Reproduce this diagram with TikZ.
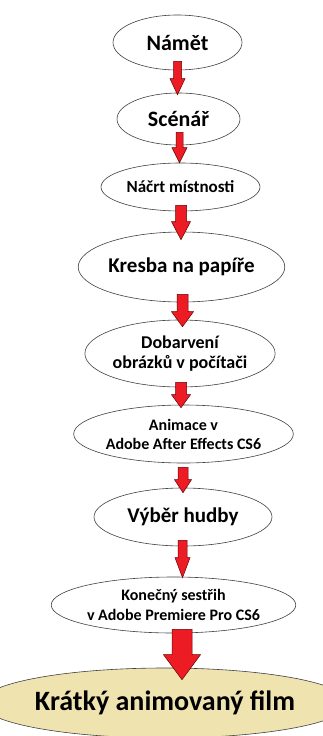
\documentclass[tikz,border=0pt]{standalone}
\usepackage{fontspec}
\setmainfont{Carlito}
\usetikzlibrary{shapes.geometric,calc}
\definecolor{arrowred}{RGB}{237,28,36}
\definecolor{filmtan}{RGB}{239,228,176}

\newcommand{\sz}[2]{\fontsize{#1}{#2}\selectfont}
% block arrow: from, to, shaft width, head width, head length
\newcommand{\flowarrow}[5]{%
  \filldraw[flow] let \p1=(#1), \p2=(#2) in
    (\x1-#3/2,\y1) -- (\x1-#3/2,\y2+#5) -- (\x1-#4/2,\y2+#5) -- (\x1,\y2)
    -- (\x1+#4/2,\y2+#5) -- (\x1+#3/2,\y2+#5) -- (\x1+#3/2,\y1) -- cycle;}

\tikzset{
  stage/.style={ellipse, draw=black!75, line width=0.6pt, fill=white,
    inner sep=0pt, align=center},
  flow/.style={fill=arrowred, draw=black!60!red, line width=0.5pt, line join=miter}
}

\begin{document}
\begin{tikzpicture}[x=1pt,y=-1pt]
        \useasboundingbox (0,0) rectangle (323,736);
        % Stages
        \node[stage, minimum width=129pt, minimum height=55pt, font=\bfseries\sz{22}{24}] (namet) at (177.5,42.5) {Námět};
        \node[stage, minimum width=123pt, minimum height=52pt, font=\bfseries\sz{22}{24}] (scenar) at (178.5,119) {Scénář};
        \node[stage, minimum width=159pt, minimum height=48pt, font=\bfseries\sz{17}{19}] (nacrt) at (180.5,187) {Náčrt místnosti};
        \node[stage, minimum width=193pt, minimum height=70pt, font=\bfseries\sz{21}{23}] (kresba) at (181.5,267) {Kresba na papíře};
        \node[stage, minimum width=166pt, minimum height=67pt, font=\bfseries\sz{18}{19.5}] (dobarveni) at (180,353.5) {Dobarvení\\obrázků v počítači};
        \node[stage, minimum width=197pt, minimum height=58pt, font=\bfseries\sz{16}{19}] (animace) at (183.5,434) {Animace v\\Adobe After Effects CS6};
        \node[stage, minimum width=178pt, minimum height=58pt, font=\bfseries\sz{21}{23}] (vyber) at (183,517) {Výběr hudby};
        \node[stage, minimum width=219pt, minimum height=56pt, font=\bfseries\sz{16}{20}] (konecny) at (173.5,605) {Konečný sestřih\\v Adobe Premiere Pro CS6};
        \node[stage, fill=filmtan, minimum width=314pt, minimum height=70pt, font=\bfseries\sz{28}{30}] (film) at (165,703) {Krátký animovaný film};
        % Arrows between stages
        \flowarrow{[yshift=9pt]namet.south}{[yshift=-2pt]scenar.north}{8pt}{15pt}{16pt}
        \flowarrow{[xshift=1pt,yshift=13pt]scenar.south}{nacrt.north}{7pt}{15pt}{15pt}
        \flowarrow{[xshift=0.5pt,yshift=6pt]nacrt.south}{[yshift=-8pt]kresba.north}{11pt}{19pt}{18pt}
        \flowarrow{[xshift=1pt,yshift=8pt]kresba.south}{[yshift=-7pt]dobarveni.north}{11pt}{22pt}{15pt}
        \flowarrow{[xshift=1pt,yshift=5pt]dobarveni.south}{[yshift=-3pt]animace.north}{11pt}{19pt}{13pt}
        \flowarrow{[xshift=-0.5pt,yshift=-4pt]animace.south}{[yshift=-5pt]vyber.north}{10pt}{17pt}{13pt}
        \flowarrow{[xshift=-0.5pt,yshift=6pt]vyber.south}{[yshift=-1pt]konecny.north}{9pt}{15pt}{20pt}
        \flowarrow{[xshift=8.5pt,yshift=4pt]konecny.south}{[yshift=-12pt]film.north}{20pt}{37pt}{25pt}
      \end{tikzpicture}
\end{document}
